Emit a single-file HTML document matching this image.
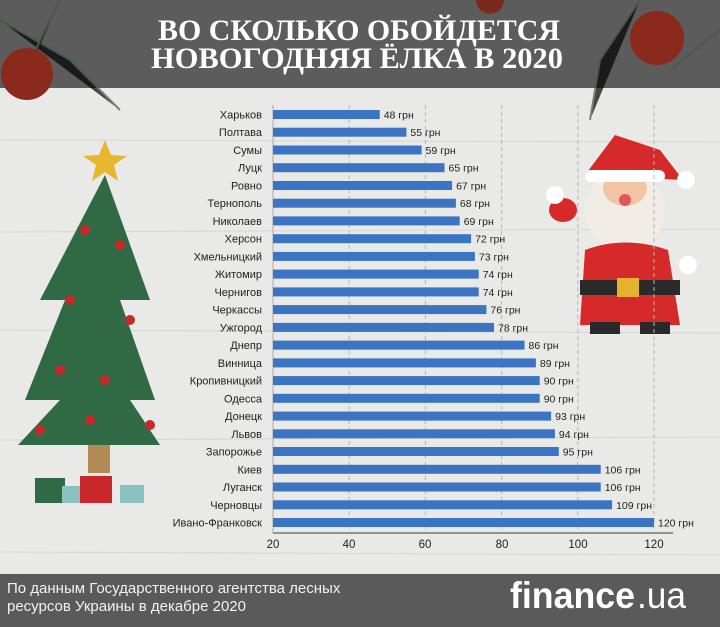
<!DOCTYPE html>
<html><head><meta charset="utf-8"><style>html,body{margin:0;padding:0;width:720px;height:627px;overflow:hidden}</style></head><body>
<svg width="720" height="627" viewBox="0 0 720 627" xmlns="http://www.w3.org/2000/svg" font-family="Liberation Sans, sans-serif">
<rect width="720" height="627" fill="#e9e9e8"/>
<g stroke="#d6d6d4" stroke-width="1"><line x1="0" y1="140" x2="720" y2="142"/><line x1="0" y1="232" x2="720" y2="229"/><line x1="0" y1="330" x2="720" y2="333"/><line x1="0" y1="440" x2="720" y2="437"/><line x1="0" y1="552" x2="720" y2="555"/></g>
<rect width="720" height="88" fill="#5c5c5c"/>
<g stroke="#3d5a44" stroke-width="2" opacity="0.7"><path d="M0 20 L70 60 L120 110"/><path d="M60 0 L40 40 L20 90"/><path d="M640 0 L600 60 L590 120"/><path d="M720 30 L670 70"/></g>
<circle cx="27" cy="74" r="26" fill="#8a2a1c"/><circle cx="657" cy="38" r="27" fill="#8a2a1c"/><circle cx="490" cy="0" r="14" fill="#7a2a1c"/>
<g font-family="Liberation Serif, serif" font-weight="bold" fill="#fff" font-size="30">
<text x="158" y="40" textLength="402" lengthAdjust="spacingAndGlyphs">ВО СКОЛЬКО ОБОЙДЕТСЯ</text>
<text x="151" y="68" textLength="412" lengthAdjust="spacingAndGlyphs">НОВОГОДНЯЯ ЁЛКА В 2020</text>
</g>
<polygon points="105,175 40,300 65,300 25,400 60,400 18,445 160,445 130,400 155,400 120,300 150,300" fill="#2f6a45"/>
<rect x="88" y="445" width="22" height="28" fill="#b28a55"/>
<polygon points="105,140 111,155 127,156 114,165 118,181 105,172 92,181 96,165 83,156 99,155" fill="#e8b62f"/>
<g fill="#c8282a"><circle cx="85" cy="230" r="5"/><circle cx="120" cy="245" r="5"/><circle cx="70" cy="300" r="5"/><circle cx="130" cy="320" r="5"/><circle cx="60" cy="370" r="5"/><circle cx="105" cy="380" r="5"/><circle cx="40" cy="430" r="5"/><circle cx="150" cy="425" r="5"/><circle cx="90" cy="420" r="5"/></g>
<rect x="35" y="478" width="30" height="25" fill="#2f6a45"/><rect x="80" y="476" width="32" height="27" fill="#c8282a"/><rect x="120" y="485" width="24" height="18" fill="#8ac2c0"/><rect x="62" y="486" width="18" height="17" fill="#8ac2c0"/>
<polygon points="585,175 615,135 660,150 683,180" fill="#d62a2a"/><circle cx="686" cy="180" r="9" fill="#fff"/>
<ellipse cx="625" cy="210" rx="40" ry="40" fill="#f1ede6"/>
<ellipse cx="625" cy="188" rx="22" ry="18" fill="#f2c3a5"/>
<rect x="585" y="170" width="80" height="12" rx="6" fill="#fff"/>
<circle cx="625" cy="200" r="6" fill="#e15757"/>
<path d="M585 250 Q625 235 668 250 L680 325 L580 325 Z" fill="#d62a2a"/>
<rect x="580" y="280" width="100" height="15" fill="#2a2a2a"/><rect x="617" y="278" width="22" height="19" fill="#e6b12c"/>
<ellipse cx="563" cy="210" rx="14" ry="12" fill="#d62a2a"/><circle cx="555" cy="195" r="9" fill="#fff"/><circle cx="688" cy="265" r="9" fill="#fff"/>
<rect x="590" y="322" width="30" height="12" fill="#2a2a2a"/><rect x="640" y="322" width="30" height="12" fill="#2a2a2a"/>
<g stroke="#b5b5b5" stroke-dasharray="4,3" stroke-width="1"><line x1="349.2" y1="105" x2="349.2" y2="533"/><line x1="425.4" y1="105" x2="425.4" y2="533"/><line x1="501.6" y1="105" x2="501.6" y2="533"/><line x1="577.8" y1="105" x2="577.8" y2="533"/><line x1="654" y1="105" x2="654" y2="533"/></g>
<line x1="273" y1="105" x2="273" y2="533" stroke="#aaa"/>
<line x1="273" y1="533" x2="673" y2="533" stroke="#777" stroke-width="1.5"/>
<g fill="#3a74c2">
<rect x="273" y="110" width="106.7" height="9"/>
<rect x="273" y="127.7" width="133.4" height="9"/>
<rect x="273" y="145.5" width="148.6" height="9"/>
<rect x="273" y="163.2" width="171.5" height="9"/>
<rect x="273" y="181" width="179.1" height="9"/>
<rect x="273" y="198.7" width="182.9" height="9"/>
<rect x="273" y="216.4" width="186.7" height="9"/>
<rect x="273" y="234.2" width="198.1" height="9"/>
<rect x="273" y="251.9" width="201.9" height="9"/>
<rect x="273" y="269.6" width="205.7" height="9"/>
<rect x="273" y="287.4" width="205.7" height="9"/>
<rect x="273" y="305.1" width="213.4" height="9"/>
<rect x="273" y="322.9" width="221" height="9"/>
<rect x="273" y="340.6" width="251.5" height="9"/>
<rect x="273" y="358.4" width="262.9" height="9"/>
<rect x="273" y="376.1" width="266.7" height="9"/>
<rect x="273" y="393.8" width="266.7" height="9"/>
<rect x="273" y="411.6" width="278.1" height="9"/>
<rect x="273" y="429.3" width="281.9" height="9"/>
<rect x="273" y="447" width="285.8" height="9"/>
<rect x="273" y="464.8" width="327.7" height="9"/>
<rect x="273" y="482.5" width="327.7" height="9"/>
<rect x="273" y="500.3" width="339.1" height="9"/>
<rect x="273" y="518" width="381" height="9"/>
</g>
<g font-size="11" fill="#222" text-anchor="end">
<text x="262" y="118.5">Харьков</text>
<text x="262" y="136.2">Полтава</text>
<text x="262" y="154">Сумы</text>
<text x="262" y="171.7">Луцк</text>
<text x="262" y="189.5">Ровно</text>
<text x="262" y="207.2">Тернополь</text>
<text x="262" y="224.9">Николаев</text>
<text x="262" y="242.7">Херсон</text>
<text x="262" y="260.4">Хмельницкий</text>
<text x="262" y="278.1">Житомир</text>
<text x="262" y="295.9">Чернигов</text>
<text x="262" y="313.6">Черкассы</text>
<text x="262" y="331.4">Ужгород</text>
<text x="262" y="349.1">Днепр</text>
<text x="262" y="366.9">Винница</text>
<text x="262" y="384.6">Кропивницкий</text>
<text x="262" y="402.3">Одесса</text>
<text x="262" y="420.1">Донецк</text>
<text x="262" y="437.8">Львов</text>
<text x="262" y="455.5">Запорожье</text>
<text x="262" y="473.3">Киев</text>
<text x="262" y="491">Луганск</text>
<text x="262" y="508.8">Черновцы</text>
<text x="262" y="526.5">Ивано-Франковск</text>
</g>
<g font-size="10.5" fill="#222">
<text x="383.7" y="118.5">48 грн</text>
<text x="410.4" y="136.2">55 грн</text>
<text x="425.6" y="154">59 грн</text>
<text x="448.5" y="171.7">65 грн</text>
<text x="456.1" y="189.5">67 грн</text>
<text x="459.9" y="207.2">68 грн</text>
<text x="463.7" y="224.9">69 грн</text>
<text x="475.1" y="242.7">72 грн</text>
<text x="478.9" y="260.4">73 грн</text>
<text x="482.7" y="278.1">74 грн</text>
<text x="482.7" y="295.9">74 грн</text>
<text x="490.4" y="313.6">76 грн</text>
<text x="498" y="331.4">78 грн</text>
<text x="528.5" y="349.1">86 грн</text>
<text x="539.9" y="366.9">89 грн</text>
<text x="543.7" y="384.6">90 грн</text>
<text x="543.7" y="402.3">90 грн</text>
<text x="555.1" y="420.1">93 грн</text>
<text x="558.9" y="437.8">94 грн</text>
<text x="562.8" y="455.5">95 грн</text>
<text x="604.7" y="473.3">106 грн</text>
<text x="604.7" y="491">106 грн</text>
<text x="616.1" y="508.8">109 грн</text>
<text x="658" y="526.5">120 грн</text>
</g>
<g font-size="11.5" fill="#222" text-anchor="middle"><text x="273" y="548">20</text><text x="349" y="548">40</text><text x="425" y="548">60</text><text x="502" y="548">80</text><text x="578" y="548">100</text><text x="654" y="548">120</text></g>
<rect x="0" y="574" width="720" height="53" fill="#5a5a5a"/>
<g fill="#f2f2f2" font-size="15"><text x="7" y="593">По данным Государственного агентства лесных</text><text x="7" y="611">ресурсов Украины в декабре 2020</text></g>
<text x="510" y="608" fill="#fff" font-size="37" font-weight="bold" textLength="125" lengthAdjust="spacingAndGlyphs">finance</text>
<text x="637" y="608" fill="#fff" font-size="37" textLength="49" lengthAdjust="spacingAndGlyphs">.ua</text>
</svg>
</body></html>
